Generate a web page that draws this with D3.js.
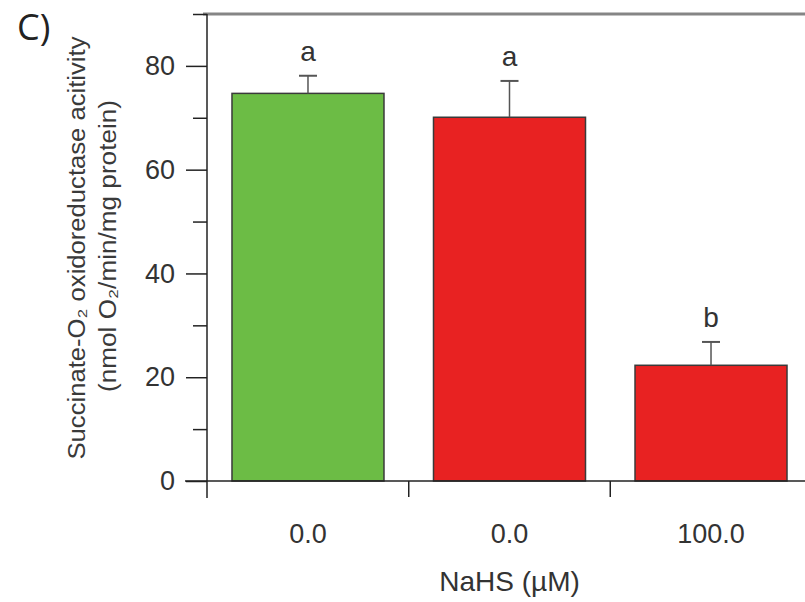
<!DOCTYPE html>
<html>
<head>
<meta charset="utf-8">
<script src="https://cdn.jsdelivr.net/npm/d3@7"></script>
<style>
  html, body { margin: 0; padding: 0; background: #fff; }
  svg { display: block; font-family: "Liberation Sans", Arial, sans-serif; }
</style>
</head>
<body>
<svg id="chart" width="805" height="602"></svg>
<script>
const categories = ["0.0", "0.0", "100.0"];
const values = [74.7, 70.1, 22.3];
const errors = [3.4, 7.0, 4.5];
const letters = ["a", "a", "b"];
const colors = ["#6cbc45", "#e82222", "#e82222"];
const majorTicks = [0, 20, 40, 60, 80];
const minorTicks = [10, 30, 50, 70, 90];

const svg = d3.select("#chart");
const plotLeft = 207, plotTop = 14, plotBottom = 481, plotRight = 812;
const FONT = "'Liberation Sans', Arial, sans-serif";

const y = d3.scaleLinear().domain([0, 90]).range([plotBottom, plotTop]);
const x = d3.scaleBand().domain(d3.range(categories.length))
  .range([plotLeft, plotRight]).paddingInner(0.2457).paddingOuter(0.124);

// top frame line
svg.append("line").attr("x1", plotLeft - 4).attr("x2", 805).attr("y1", plotTop).attr("y2", plotTop)
  .attr("stroke", "#858585").attr("stroke-width", 3);

// bars
svg.selectAll("rect.bar").data(values).enter().append("rect")
  .attr("class", "bar")
  .attr("x", (d, i) => x(i))
  .attr("width", x.bandwidth())
  .attr("y", d => y(d))
  .attr("height", d => y(0) - y(d))
  .attr("fill", (d, i) => colors[i])
  .attr("stroke", "#3a3a3a").attr("stroke-width", 1.5);

// error bars
const capW = 18;
values.forEach((v, i) => {
  const cx = x(i) + x.bandwidth() / 2;
  svg.append("line").attr("x1", cx).attr("x2", cx).attr("y1", y(v)).attr("y2", y(v + errors[i]))
    .attr("stroke", "#555").attr("stroke-width", 1.5);
  svg.append("line").attr("x1", cx - capW / 2).attr("x2", cx + capW / 2)
    .attr("y1", y(v + errors[i])).attr("y2", y(v + errors[i]))
    .attr("stroke", "#555").attr("stroke-width", 2);
  svg.append("text").attr("x", cx).attr("y", y(v + errors[i]) - 15)
    .attr("text-anchor", "middle").attr("font-size", 28).attr("fill", "#333")
    .attr("font-family", FONT)
    .text(letters[i]);
});

// y axis
const yAxis = svg.append("g").attr("transform", `translate(${plotLeft},0)`)
  .call(d3.axisLeft(y).tickValues(majorTicks).tickSize(21).tickPadding(11).tickFormat(d3.format("d")));
yAxis.select(".domain").remove();
yAxis.selectAll("line").attr("stroke", "#222").attr("stroke-width", 1.5);
yAxis.selectAll("text").attr("font-size", 27).attr("fill", "#333").attr("font-family", FONT);
const yMinor = svg.append("g").attr("transform", `translate(${plotLeft},0)`)
  .call(d3.axisLeft(y).tickValues(minorTicks).tickSize(14).tickFormat(""));
yMinor.select(".domain").remove();
yMinor.selectAll("line").attr("stroke", "#222").attr("stroke-width", 1.5);

svg.append("line").attr("x1", plotLeft).attr("x2", plotLeft).attr("y1", plotTop).attr("y2", plotBottom + 17)
  .attr("stroke", "#222").attr("stroke-width", 1.5);

// x axis
const xAxis = svg.append("g").attr("transform", `translate(0,${plotBottom})`)
  .call(d3.axisBottom(x).tickSize(0).tickPadding(43).tickFormat(i => categories[i]));
xAxis.select(".domain").remove();
xAxis.selectAll("text").attr("font-size", 27).attr("fill", "#333").attr("font-family", FONT);
svg.append("line").attr("x1", plotLeft - 22).attr("x2", 805).attr("y1", plotBottom).attr("y2", plotBottom)
  .attr("stroke", "#222").attr("stroke-width", 1.5);
const gap = x.step() * x.paddingInner() / 2;
d3.range(1, categories.length).forEach(i => {
  const bx = x(i) - gap;
  svg.append("line").attr("x1", bx).attr("x2", bx).attr("y1", plotBottom).attr("y2", plotBottom + 16)
    .attr("stroke", "#222").attr("stroke-width", 1.5);
});

// axis titles
svg.append("text").attr("x", (x(1) + x.bandwidth() / 2)).attr("y", 591)
  .attr("text-anchor", "middle").attr("font-size", 28).attr("fill", "#333")
  .attr("font-family", FONT)
  .text("NaHS (µM)");

const yt = svg.append("g").attr("transform", "rotate(-90)");
yt.append("text").attr("x", -248).attr("y", 85).attr("text-anchor", "middle")
  .attr("font-size", 23).attr("fill", "#3a3a3a").attr("font-family", FONT)
  .attr("textLength", 423).attr("lengthAdjust", "spacingAndGlyphs")
  .text("Succinate-O₂ oxidoreductase acitivity");
yt.append("text").attr("x", -246).attr("y", 116).attr("text-anchor", "middle")
  .attr("font-size", 23).attr("fill", "#3a3a3a").attr("font-family", FONT)
  .attr("textLength", 292).attr("lengthAdjust", "spacingAndGlyphs")
  .text("(nmol O₂/min/mg protein)");

// panel label
svg.append("text").attr("x", 17).attr("y", 40).attr("font-size", 36)
  .attr("font-family", "'Open Sans', sans-serif").attr("fill", "#222")
  .text("C)");
</script>
</body>
</html>
